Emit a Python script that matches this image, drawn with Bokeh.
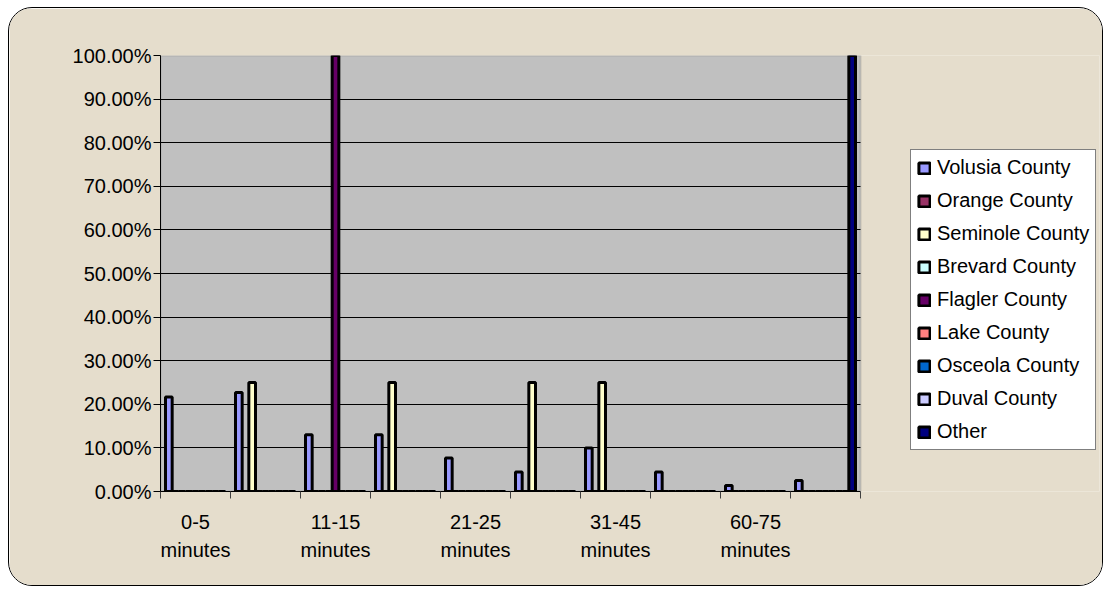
from bokeh.plotting import figure
from bokeh.models import (ColumnDataSource, Range1d, FixedTicker, NumeralTickFormatter,
                          Legend, LegendItem, BoxAnnotation)
from bokeh.transform import dodge
from bokeh.embed import file_html
from bokeh.resources import INLINE

# ---- data ----
categories = ["0-5 minutes", "6-10 minutes", "11-15 minutes", "16-20 minutes",
              "21-25 minutes", "26-30 minutes", "31-45 minutes", "46-60 minutes",
              "60-75 minutes", "Over 75 minutes"]
series_names = ["Volusia County", "Orange County", "Seminole County", "Brevard County",
                "Flagler County", "Lake County", "Osceola County", "Duval County", "Other"]
volusia = [0.217, 0.227, 0.130, 0.130, 0.077, 0.045, 0.100, 0.045, 0.014, 0.025]
orange = [0, 0, 0, 0, 0, 0, 0, 0, 0, 0]
seminole = [0, 0.25, 0, 0.25, 0, 0.25, 0.25, 0, 0, 0]
brevard = [0, 0, 0, 0, 0, 0, 0, 0, 0, 0]
flagler = [0, 0, 1.0, 0, 0, 0, 0, 0, 0, 0]
lake = [0, 0, 0, 0, 0, 0, 0, 0, 0, 0]
osceola = [0, 0, 0, 0, 0, 0, 0, 0, 0, 0]
duval = [0, 0, 0, 0, 0, 0, 0, 0, 0, 0]
other = [0, 0, 0, 0, 0, 0, 0, 0, 0, 1.0]
y_ticks = [i / 10 for i in range(11)]

series_values = [volusia, orange, seminole, brevard, flagler, lake, osceola, duval, other]
colors = ["#9999FF", "#993366", "#FFFFCC", "#CCFFFF", "#660066",
          "#FF8080", "#0066CC", "#CCCCFF", "#000080"]

n_cat = len(categories)
n_ser = len(series_names)
slot = 1.0 / (n_ser + 1.5)   # Excel gap width 150%

data = {"x": [i + 0.5 for i in range(n_cat)]}
for k, vals in enumerate(series_values):
    data["s%d" % k] = vals
src = ColumnDataSource(data)

FONT = "Liberation Sans"
BEIGE = "#E5DDCC"

W, H = 1095, 579
LEFT, RIGHT, TOP, BOTTOM = 151, 5, 47, 96
PLOT_W = 700          # pixel width of the category area
frame_w = W - LEFT - RIGHT

p = figure(width=W, height=H, output_backend="svg", toolbar_location=None,
           x_range=Range1d(0, n_cat * frame_w / PLOT_W), y_range=Range1d(0, 1),
           min_border_left=LEFT, min_border_right=RIGHT, min_border_top=TOP,
           min_border_bottom=BOTTOM,
           background_fill_color=BEIGE, border_fill_color=BEIGE)
p.styles = {"border": "1px solid black", "border-radius": "24px", "overflow": "hidden",
            "margin-left": "8px", "margin-top": "7px"}
p.outline_line_color = None

# plot area (back wall), below the grid lines
p.add_layout(BoxAnnotation(left=0, right=n_cat, bottom=0, top=1, level="image",
                           fill_color="#C0C0C0", fill_alpha=1.0,
                           line_color="#808080", line_width=2))

items = []
for k, name in enumerate(series_names):
    r = p.vbar(x=dodge("x", (k - (n_ser - 1) / 2) * slot, range=p.x_range),
               top="s%d" % k, bottom=0, width=slot, source=src,
               fill_color=colors[k], line_color="black", line_width=3)
    items.append(LegendItem(label=name, renderers=[r]))

legend = Legend(items=items, location=(750, 41), margin=0,
                label_text_font=FONT, label_text_font_size="20px", label_text_color="black",
                glyph_width=14, glyph_height=14, label_height=20, label_standoff=6,
                spacing=10, padding=6,
                border_line_color="black", border_line_width=1,
                background_fill_color="white", background_fill_alpha=1.0)
p.add_layout(legend, "center")

# grid
p.xgrid.visible = False
p.ygrid.ticker = FixedTicker(ticks=y_ticks)
p.ygrid.grid_line_color = "black"
p.ygrid.grid_line_width = 1
p.ygrid.level = "underlay"
p.ygrid.cross_bounds = (0, n_cat)

# y axis
p.yaxis.ticker = FixedTicker(ticks=y_ticks)
p.yaxis.formatter = NumeralTickFormatter(format="0.00%")
p.yaxis.major_label_text_font = FONT
p.yaxis.major_label_text_font_size = "20px"
p.yaxis.major_label_text_color = "black"
p.yaxis.axis_line_color = "black"
p.yaxis.major_tick_line_color = "black"
p.yaxis.major_tick_out = 7
p.yaxis.major_tick_in = 0
p.yaxis.minor_tick_line_color = None
p.yaxis.major_label_standoff = 2

# x axis: labels on every other category, ticks on category boundaries
label_pos = [i + 0.5 for i in range(0, n_cat, 2)]
p.xaxis.bounds = (0, n_cat)
p.xaxis.ticker = FixedTicker(ticks=label_pos, minor_ticks=list(range(n_cat + 1)))
p.xaxis.major_label_overrides = {i + 0.5: categories[i].replace(" ", "\n")
                                 for i in range(0, n_cat, 2)}
p.xaxis.major_label_text_font = FONT
p.xaxis.major_label_text_font_size = "20px"
p.xaxis.major_label_text_color = "black"
p.xaxis.major_label_text_line_height = 1.3
p.xaxis.major_label_standoff = 12
p.xaxis.major_tick_out = 0
p.xaxis.major_tick_in = 0
p.xaxis.minor_tick_out = 7
p.xaxis.minor_tick_in = 0
p.xaxis.minor_tick_line_color = "#404040"
p.xaxis.axis_line_color = "black"

open("out.html", "w").write(file_html(p, INLINE))
